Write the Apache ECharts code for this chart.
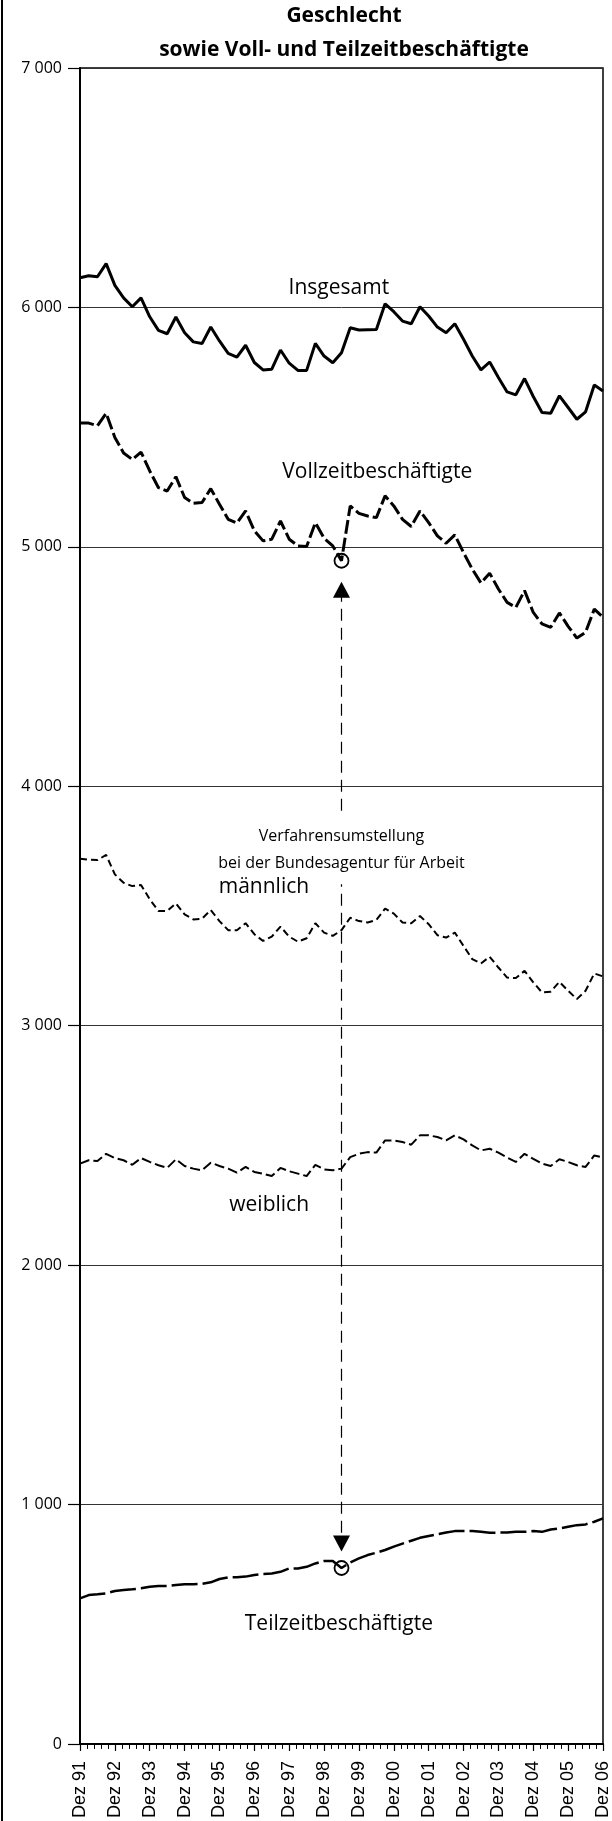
<!DOCTYPE html>
<html>
<head>
<meta charset="utf-8">
<script src="https://cdn.jsdelivr.net/npm/echarts@6/dist/echarts.min.js"></script>
<style>
  html, body { margin: 0; padding: 0; background: #fff; }
  #chart { width: 612px; height: 1821px; }
</style>
</head>
<body>
<div id="chart"></div>
<script>
// Beschäftigte nach Geschlecht sowie Voll- und Teilzeit, Quartalswerte in 1 000
// Dez 91 bis Dez 06 (61 Quartale)
const xLabels = ['Dez 91', 'Dez 92', 'Dez 93', 'Dez 94', 'Dez 95', 'Dez 96', 'Dez 97', 'Dez 98',
  'Dez 99', 'Dez 00', 'Dez 01', 'Dez 02', 'Dez 03', 'Dez 04', 'Dez 05', 'Dez 06']
const yLabels = ['0', '1 000', '2 000', '3 000', '4 000', '5 000', '6 000', '7 000']

const insgesamt = [6124, 6132, 6128, 6183, 6092, 6040, 6003, 6040, 5961, 5904,
  5890, 5960, 5894, 5856, 5849, 5918, 5860, 5808, 5792, 5842,
  5770, 5739, 5742, 5822, 5767, 5737, 5737, 5850, 5797, 5769,
  5811, 5915, 5906, 5907, 5908, 6015, 5982, 5943, 5932, 6003,
  5964, 5918, 5894, 5932, 5867, 5797, 5739, 5772, 5707, 5647,
  5635, 5703, 5628, 5561, 5558, 5631, 5582, 5533, 5564, 5676, 5651]

const vollzeit = [5517, 5517, 5506, 5558, 5457, 5392, 5365, 5396, 5317, 5247,
  5233, 5293, 5206, 5182, 5185, 5243, 5178, 5115, 5099, 5150,
  5067, 5025, 5032, 5108, 5032, 5004, 5001, 5101, 5036, 5004,
  4942, 5171, 5140, 5129, 5122, 5213, 5171, 5115, 5085, 5150,
  5101, 5046, 5015, 5050, 4976, 4907, 4849, 4890, 4824, 4768,
  4747, 4817, 4726, 4678, 4664, 4724, 4668, 4619, 4643, 4740, 4706]

const maennlich = [3697, 3694, 3692, 3713, 3632, 3597, 3583, 3588, 3528, 3479,
  3479, 3511, 3465, 3444, 3447, 3483, 3437, 3399, 3399, 3428,
  3382, 3354, 3372, 3414, 3372, 3351, 3365, 3428, 3389, 3375,
  3399, 3451, 3437, 3431, 3442, 3489, 3468, 3431, 3428, 3458,
  3424, 3378, 3368, 3389, 3333, 3278, 3260, 3288, 3243, 3201,
  3199, 3229, 3181, 3139, 3142, 3183, 3146, 3111, 3146, 3218, 3206]

const weiblich = [2424, 2438, 2435, 2465, 2447, 2438, 2419, 2447, 2431, 2417,
  2406, 2442, 2414, 2403, 2396, 2428, 2414, 2403, 2386, 2410,
  2389, 2382, 2372, 2406, 2392, 2382, 2372, 2419, 2400, 2396,
  2403, 2451, 2465, 2472, 2470, 2521, 2521, 2514, 2503, 2542,
  2542, 2535, 2521, 2542, 2525, 2500, 2479, 2486, 2470, 2449,
  2431, 2465, 2444, 2424, 2414, 2442, 2431, 2417, 2410, 2458, 2449]

const teilzeit = [608, 622, 625, 629, 639, 643, 646, 650, 657, 660,
  660, 664, 667, 667, 669, 675, 689, 696, 696, 699,
  706, 710, 712, 719, 733, 733, 740, 754, 764, 764,
  735, 758, 775, 789, 799, 810, 824, 837, 849, 861,
  869, 876, 883, 889, 889, 889, 886, 882, 883, 883,
  886, 886, 889, 886, 896, 900, 907, 914, 917, 928, 942]

// Verfahrensumstellung (Quartal-Index) und Pfeilenden
const umstellung = 30
const pfeilOben = 4821
const pfeilUnten = 837

const font = '"Open Sans", "Noto Sans", sans-serif'

const chart = echarts.init(document.getElementById('chart'), null, { renderer: 'canvas' })

function toPoints(values) {
  return values.map((v, i) => [i, v])
}

function circleMark(values) {
  return {
    silent: true,
    symbol: 'circle',
    symbolSize: 14,
    itemStyle: { color: 'rgba(0,0,0,0)', borderColor: '#000', borderWidth: 1.8 },
    label: { show: false },
    data: [{ coord: [umstellung, values[umstellung]] }]
  }
}

function lineSeries(name, values, width, dash) {
  return {
    name: name,
    type: 'line',
    data: toPoints(values),
    showSymbol: false,
    symbol: 'none',
    silent: true,
    lineStyle: { color: '#000', width: width, type: dash }
  }
}

const vollSeries = lineSeries('Vollzeitbeschäftigte', vollzeit, 3, [14, 4])
vollSeries.markPoint = circleMark(vollzeit)
vollSeries.markLine = {
  silent: true,
  symbol: ['triangle', 'triangle'],
  symbolSize: [17, 16],
  label: { show: false },
  lineStyle: { color: '#000', width: 1.2, type: [12, 7] },
  itemStyle: { color: '#000' },
  data: [[{ coord: [umstellung, pfeilOben] }, { coord: [umstellung, pfeilUnten] }]]
}

const teilSeries = lineSeries('Teilzeitbeschäftigte', teilzeit, 2.5, [26, 5])
teilSeries.markPoint = circleMark(teilzeit)

const option = {
  animation: false,
  grid: {
    left: 80, right: 2, top: 68, bottom: 76,
    show: true, borderColor: '#000', borderWidth: 1.5
  },
  xAxis: {
    type: 'value',
    min: 0,
    max: 60,
    interval: 4,
    axisLine: { show: true, onZero: false, lineStyle: { color: '#000', width: 2 } },
    axisTick: { show: true, length: 7, lineStyle: { color: '#000', width: 1.2 } },
    minorTick: { show: true, splitNumber: 5, length: 5, lineStyle: { color: '#000', width: 1 } },
    axisLabel: {
      rotate: 90,
      margin: 17,
      color: '#000',
      fontFamily: '"Liberation Sans", Arial, sans-serif',
      fontSize: 18,
      formatter: v => xLabels[v / 4]
    },
    splitLine: { show: false }
  },
  yAxis: {
    type: 'value',
    min: 0,
    max: 7000,
    interval: 1000,
    axisLine: { show: true, lineStyle: { color: '#000', width: 2 } },
    axisTick: { show: true, length: 12, lineStyle: { color: '#000', width: 1.2 } },
    axisLabel: {
      margin: 18,
      color: '#000',
      fontFamily: font,
      fontSize: 16,
      padding: [0, 0, 9, 0],
      formatter: v => yLabels[v / 1000]
    },
    splitLine: { show: true, lineStyle: { color: '#333', width: 1 } }
  },
  series: [
    lineSeries('Insgesamt', insgesamt, 3, 'solid'),
    vollSeries,
    lineSeries('männlich', maennlich, 2, [7, 4]),
    lineSeries('weiblich', weiblich, 2, [10, 4]),
    teilSeries
  ]
}

chart.setOption(option)

// Beschriftungen an Datenkoordinaten
const notes = [
  { text: 'Insgesamt', q: 29.7, v: 6083, size: 21 },
  { text: 'Vollzeitbeschäftigte', q: 34.1, v: 5312, size: 21 },
  { text: 'männlich', q: 21.1, v: 3580, size: 21 },
  { text: 'weiblich', q: 21.7, v: 2250, size: 21 },
  { text: 'Teilzeitbeschäftigte', q: 29.7, v: 503, size: 21 },
  { text: 'Verfahrensumstellung\nbei der Bundesagentur für Arbeit', q: 30, v: 3735, size: 16, box: true }
]

const graphics = notes.map(n => {
  const p = chart.convertToPixel({ gridIndex: 0 }, [n.q, n.v])
  const style = {
    text: n.text,
    fill: '#000',
    font: n.size + 'px ' + font,
    align: 'center',
    verticalAlign: 'middle',
    lineHeight: 27
  }
  if (n.box) {
    style.backgroundColor = '#fff'
    style.padding = [12, 4, 3, 4]
  }
  return { type: 'text', x: p[0], y: p[1], z: n.box ? 90 : 100, silent: true, style: style }
})

// Titel und linke Rahmenlinie
graphics.push({
  type: 'text', x: 344, y: 16, z: 100, silent: true,
  style: { text: 'Geschlecht', fill: '#000', font: 'bold 21px ' + font, align: 'center', verticalAlign: 'middle' }
})
graphics.push({
  type: 'text', x: 344, y: 50, z: 100, silent: true,
  style: { text: 'sowie Voll- und Teilzeitbeschäftigte', fill: '#000', font: 'bold 21px ' + font, align: 'center', verticalAlign: 'middle' }
})
graphics.push({
  type: 'line', silent: true,
  shape: { x1: 2, y1: 0, x2: 2, y2: 1821 },
  style: { stroke: '#000', lineWidth: 2 }
})

chart.setOption({ graphic: graphics })
</script>
</body>
</html>
